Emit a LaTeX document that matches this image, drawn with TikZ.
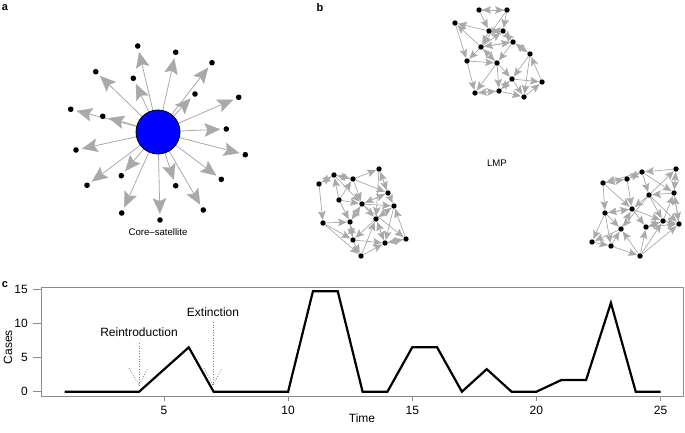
\documentclass[tikz,border=0pt]{standalone}
\usepackage{fontspec}
\setmainfont{Liberation Sans}
\usetikzlibrary{calc,backgrounds}
\definecolor{edgegray}{HTML}{A9A9A9}
\definecolor{boxgray}{HTML}{8C8C8C}
\definecolor{coreblue}{HTML}{0000FF}
% edge with a filled kite-shaped arrowhead: src, tgt, tip offset, length, half width, inset
\newcommand\myarrowedge[6]{%
  \coordinate (tipP) at ($(#2)!#3!(#1)$);
  \coordinate (backP) at ($(#2)!#3+#4!(#1)$);
  \coordinate (insP) at ($(#2)!#3+#4-#6!(#1)$);
  \draw[edgeline] (#1) -- (insP);
  \filldraw[edgegray,line width=0.3pt,line join=miter] (tipP) -- ($(backP)!#5!90:(tipP)$) -- (insP) -- ($(backP)!#5!-90:(tipP)$) -- cycle;
}
\begin{document}
\begin{tikzpicture}[x=1pt,y=-1pt,
  core/.style={circle,fill=coreblue,draw=black,line width=0.8pt,minimum size=44pt,inner sep=0pt},
  dot/.style={circle,fill=black,inner sep=0pt,minimum size=5.6pt},
  ndot/.style={circle,fill=black,inner sep=0pt,minimum size=5.4pt},
  edgeline/.style={draw=edgegray,line width=0.8pt},
  graphlbl/.style={font=\fontsize{9.6}{11}\selectfont,inner sep=0pt},
  plotlbl/.style={font=\fontsize{12}{14}\selectfont,inner sep=0pt},
  panellbl/.style={font=\bfseries\fontsize{11}{13}\selectfont,inner sep=0pt},
  plotbox/.style={draw=boxgray,line width=0.8pt},
  plotline/.style={draw=black,line width=2.2pt,line join=miter},
  annot/.style={draw=gray,line width=0.7pt,dash pattern=on 1pt off 1.6pt}]
\useasboundingbox (0,0) rectangle (685,433);

% ---------------- panel labels
\node[panellbl] (la) at (5,8) {a};
\node[panellbl] (lb) at (320,8) {b};
\node[panellbl] (lc) at (5,285) {c};

% ---------------- panel a: core-satellite
\node[core] (core) at (158,132) {};
\foreach \i/\x/\y in {1/137.7/46, 2/175.7/52.3, 3/212/62.7, 4/95.7/71.7, 5/133.3/78.3,
  6/195/94, 7/238.7/97.3, 8/70.7/109.3, 9/102.7/116.3, 10/226.3/129, 11/76/150,
  12/245.3/154.7, 13/121.3/175.7, 14/221.3/179.3, 15/175.7/185.7, 16/87/185.3,
  17/203.3/210, 18/121.7/213, 19/160/220}
  \node[dot] (s\i) at (\x,\y) {};
\begin{scope}[on background layer]
  \foreach \i in {1,...,19} {\myarrowedge{core}{s\i}{6.5pt}{15pt}{6.5pt}{2.8pt}}
\end{scope}
\node[graphlbl] (cs) at (158,232) {Core--satellite};

% ---------------- panel b: LMP clusters
% top cluster
\foreach \n/\x/\y in {t1/479/10, t2/507/10, t3/455/23, t4/489/31, t5/503/31, t6/513/42,
  t7/481/47, t8/530/54, t9/467/61, t10/497/63, t11/512/79, t12/542/82, t13/475/93,
  t14/499/91, t15/524/97}
  \node[ndot] (\n) at (\x,\y) {};
% left cluster
\foreach \n/\x/\y in {l1/379/169, l2/334/175, l3/353/179, l4/319/184, l5/388/193, l6/339/200,
  l7/362/204, l8/394/206, l9/376/219, l10/350/222, l11/323/223, l12/353/240, l13/385/243,
  l14/406/239, l15/361/256}
  \node[ndot] (\n) at (\x,\y) {};
% right cluster
\foreach \n/\x/\y in {r1/676/169, r2/642/172, r3/627/179, r4/603/183, r5/649/195, r6/674/193,
  r7/632/209, r8/605/213, r9/663/221, r10/679/224, r11/646/227, r12/621/229, r13/592/242,
  r14/611/246, r15/640/256}
  \node[ndot] (\n) at (\x,\y) {};
\begin{scope}[on background layer,edgeline/.append style={line width=0.7pt}]
  \foreach \a/\b in {t1/t2, t2/t1, t7/t3, t4/t3, t1/t4, t2/t5, t2/t7, t5/t4, t6/t5, t7/t5,
    t7/t6, t6/t8, t8/t11, t6/t10, t7/t10, t9/t10, t7/t9, t10/t11, t10/t13, t10/t14,
    t11/t12, t11/t15, t8/t15, t13/t14, t14/t11, t9/t13, t12/t8, t4/t7, t10/t7, t14/t15,
    t3/t9, t5/t6, t4/t5, t15/t12, t14/t13, t6/t7, t8/t6, t11/t14}
    {\myarrowedge{\a}{\b}{3.6pt}{8pt}{3.5pt}{1.6pt}}
  \foreach \a/\b in {l3/l1, l2/l3, l4/l2, l3/l2, l4/l11, l3/l7, l3/l5, l2/l7, l6/l3, l6/l7,
    l7/l5, l7/l8, l5/l8, l1/l9, l8/l9, l7/l9, l7/l10, l10/l7, l11/l10, l11/l12, l11/l15,
    l10/l12, l9/l12, l9/l13, l12/l13, l12/l15, l15/l13, l13/l14, l7/l14, l8/l13, l15/l9,
    l1/l5, l6/l10, l5/l1, l9/l8, l14/l13, l12/l10, l2/l4, l5/l7, l13/l9, l6/l2, l14/l8}
    {\myarrowedge{\a}{\b}{3.6pt}{8pt}{3.5pt}{1.6pt}}
  \foreach \a/\b in {r2/r4, r3/r4, r2/r3, r2/r5, r5/r1, r1/r6, r2/r6, r3/r7, r4/r8, r4/r7,
    r5/r7, r5/r9, r6/r10, r5/r10, r7/r8, r8/r13, r8/r14, r7/r11, r7/r9, r11/r9, r12/r7,
    r12/r13, r13/r14, r14/r15, r15/r12, r15/r11, r15/r10, r15/r9, r11/r10, r8/r12, r5/r12,
    r9/r10, r6/r5, r1/r2, r4/r3, r9/r11, r10/r6, r6/r1, r8/r7, r14/r12, r3/r2, r9/r6}
    {\myarrowedge{\a}{\b}{3.6pt}{8pt}{3.5pt}{1.6pt}}
\end{scope}
\node[graphlbl] (lmp) at (497,163) {LMP};

% ---------------- panel c: time series
\draw[plotbox] (41,287) rectangle (683,396);
% y axis ticks and labels
\foreach \v in {0,5,10,15} {
  \pgfmathsetmacro{\yy}{391.7-6.83*\v}
  \draw[plotbox] (41,\yy) -- (33,\yy);
  \node[plotlbl,anchor=east] at (28,\yy) {\v};
}
% x axis ticks and labels
\foreach \t in {5,10,15,20,25} {
  \pgfmathsetmacro{\xx}{39.8+24.83*\t}
  \draw[plotbox] (\xx,396) -- (\xx,401);
  \node[plotlbl] at (\xx,410) {\t};
}
\node[plotlbl,rotate=90] (cases) at (8,347) {Cases};
\node[plotlbl] (time) at (362,418) {Time};
\begin{scope}[shift={(39.8,391.7)},x=24.83pt,y=6.83pt]
  \draw[plotline] plot coordinates {(1,0) (2,0) (3,0) (4,0) (5,3.25) (6,6.5) (7,0) (8,0)
    (9,0) (10,0) (11,14.7) (12,14.7) (13,0) (14,0) (15,6.5) (16,6.5) (17,0) (18,3.3)
    (19,0) (20,0) (21,1.7) (22,1.7) (23,13) (24,0) (25,0)};
\end{scope}
% annotations
\node[plotlbl] (reint) at (139,332) {Reintroduction};
\node[plotlbl] (ext) at (213,312) {Extinction};
\coordinate (rtip) at (139,385);
\coordinate (etip) at (213,385);
\draw[annot] (139,343) -- (rtip);
\draw[annot] (129,368) -- (rtip) -- (148,368);
\draw[annot] (213,322) -- (etip);
\draw[annot] (204,368) -- (etip) -- (222,368);
\end{tikzpicture}
\end{document}
